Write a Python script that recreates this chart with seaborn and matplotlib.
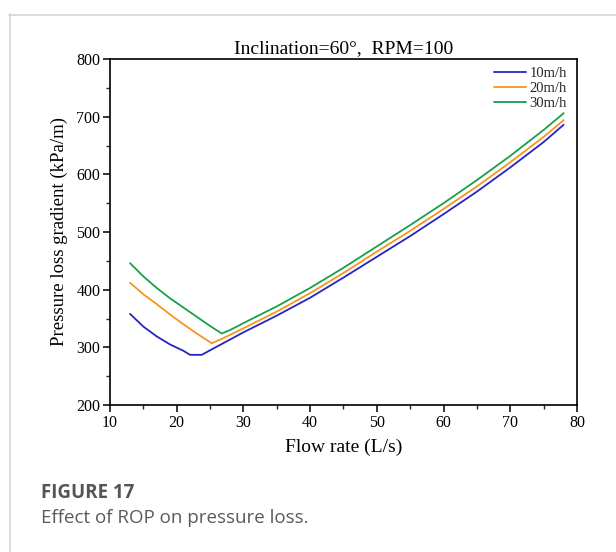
import matplotlib
matplotlib.use("Agg")
import matplotlib.pyplot as plt
from matplotlib.lines import Line2D
from matplotlib.ticker import MultipleLocator
import seaborn as sns
import pandas as pd

# ---- data ----
x_10 = [13, 15, 17, 19, 21, 22, 23.75, 25.5, 30, 35, 40, 45, 50, 55, 60, 65, 70, 75, 78]
y_10 = [358, 336, 319, 305, 294, 287, 287, 298, 326, 355, 386, 421, 457, 493, 531, 570, 612, 656, 686]

x_20 = [13, 15, 17, 19, 21, 23, 25.25, 27, 30, 35, 40, 45, 50, 55, 60, 65, 70, 75, 78]
y_20 = [412, 392, 375, 357, 340, 324, 307, 316, 333, 362, 394, 429, 466, 502, 540, 579, 621, 665, 694]

x_30 = [13, 15, 17, 19, 21, 23, 25, 26.75, 28, 30, 35, 40, 45, 50, 55, 60, 65, 70, 75, 78]
y_30 = [446, 423, 403, 385, 369, 353, 337, 324, 330, 342, 371, 403, 438, 475, 512, 550, 590, 632, 677, 706]

series_labels = ["10m/h", "20m/h", "30m/h"]
series_colors = ["#2424c4", "#f7931e", "#18a048"]

title_text = "Inclination=60°,  RPM=100"
xlabel_text = "Flow rate (L/s)"
ylabel_text = "Pressure loss gradient (kPa/m)"
caption_head = "FIGURE 17"
caption_text = "Effect of ROP on pressure loss."

frames = []
for lab, xs, ys in zip(series_labels, [x_10, x_20, x_30], [y_10, y_20, y_30]):
    frames.append(pd.DataFrame({"Flow": xs, "Loss": ys, "ROP": lab}))
df = pd.concat(frames, ignore_index=True)

# ---- figure ----
sns.set_theme(style="ticks")
plt.rcParams["font.family"] = ["Liberation Serif", "DejaVu Serif"]

W, H = 616, 552
fig = plt.figure(figsize=(W / 100, H / 100), dpi=100)
fig.patch.set_facecolor("white")

left, right, top, bottom = 110, 577, 59, 405
ax = fig.add_axes([left / W, 1 - bottom / H, (right - left) / W, (bottom - top) / H])

sns.lineplot(data=df, x="Flow", y="Loss", hue="ROP", palette=series_colors,
             linewidth=1.3, ax=ax, sort=False, estimator=None)

ax.set_xlim(10, 80)
ax.set_ylim(200, 800)
ax.xaxis.set_major_locator(MultipleLocator(10))
ax.xaxis.set_minor_locator(MultipleLocator(5))
ax.yaxis.set_major_locator(MultipleLocator(100))
ax.yaxis.set_minor_locator(MultipleLocator(50))
ax.tick_params(axis="both", which="major", direction="out", length=5, width=1.1,
               labelsize=11.5, colors="black", pad=2)
ax.tick_params(axis="both", which="minor", direction="out", length=3, width=1.0)
ax.tick_params(top=False, right=False, which="both")
for sp in ax.spines.values():
    sp.set_visible(True)
    sp.set_linewidth(1.2)
    sp.set_color("black")

ax.set_xlabel(xlabel_text, fontsize=14, labelpad=6, color="black")
ax.set_ylabel(ylabel_text, fontsize=13.5, labelpad=6, color="black")
ax.set_title(title_text, fontsize=14, pad=4, color="black")

leg = ax.legend(loc="upper right", frameon=False, fontsize=10.5, handlelength=2.2,
                labelspacing=0.12, handletextpad=0.25, borderaxespad=0.15,
                bbox_to_anchor=(0.995, 1.0))
for line in leg.get_lines():
    line.set_linewidth(1.3)

# card border lines
fig.add_artist(Line2D([9.5 / W, 9.5 / W], [0, 1 - 14 / H], transform=fig.transFigure,
                      color="#d4d4d4", linewidth=1.2))
fig.add_artist(Line2D([9 / W, 1], [1 - 14.5 / H, 1 - 14.5 / H], transform=fig.transFigure,
                      color="#d4d4d4", linewidth=1.2))

# caption
fig.text(41 / W, 1 - 493 / H, caption_head, fontsize=13.5, fontweight="bold",
         color="#555555", family=["Open Sans", "DejaVu Sans"], va="center", ha="left")
fig.text(41 / W, 1 - 518 / H, caption_text, fontsize=13.5,
         color="#5a5a5a", family=["Open Sans", "DejaVu Sans"], va="center", ha="left")

fig.savefig("out.png", dpi=100, facecolor="white")
